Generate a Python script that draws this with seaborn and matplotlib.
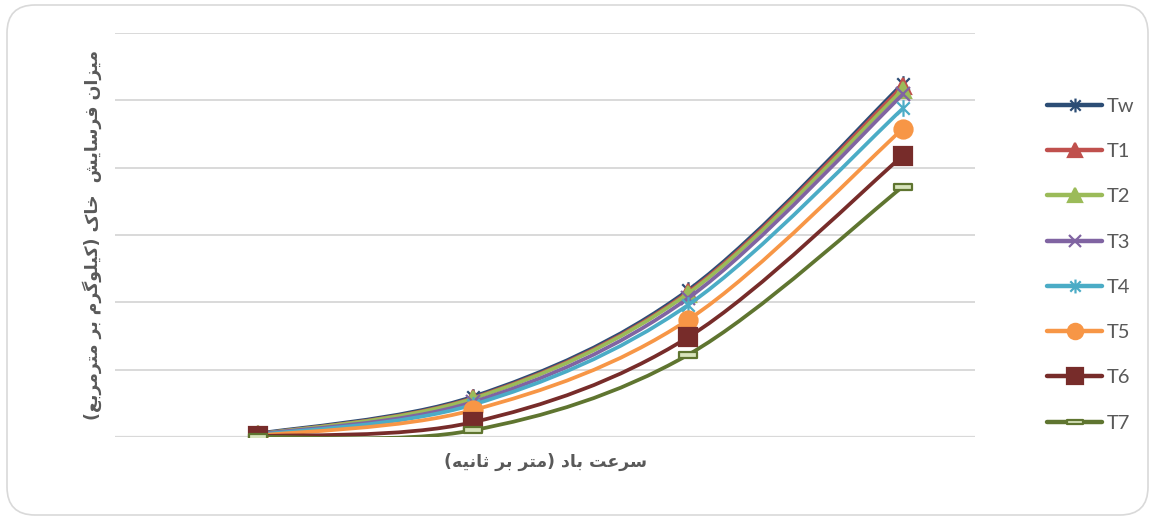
import numpy as np
import matplotlib
matplotlib.use("Agg")
import matplotlib.pyplot as plt
import seaborn as sns
import pandas as pd
from matplotlib.path import Path
from matplotlib.patches import PathPatch, FancyBboxPatch
from matplotlib.lines import Line2D

# data (in gridline units; no tick labels are shown)
points = [0, 1, 2, 3]
series = ["Tw", "T1", "T2", "T3", "T4", "T5", "T6", "T7"]
tw = [0.05, 0.60, 2.18, 5.25]
t1 = [0.04, 0.58, 2.15, 5.21]
t2 = [0.04, 0.57, 2.13, 5.16]
t3 = [0.04, 0.52, 2.06, 5.09]
t4 = [0.03, 0.48, 1.96, 4.88]
t5 = [0.02, 0.40, 1.74, 4.58]
t6 = [0.01, 0.22, 1.48, 4.18]
t7 = [0.00, 0.10, 1.22, 3.72]
colors = ["#2C4D75", "#C0504D", "#9BBB59", "#8064A2", "#4BACC6", "#F79646", "#772C2A", "#5F7530"]

ylabel = "میزان فرسایش  خاک (کیلوگرم بر مترمربع)"
xlabel = "سرعت باد (متر بر ثانیه)"

# crude arabic-script shaping: isolated, final, initial, medial
forms = {
    "ا": ("\uFE8D", "\uFE8E", None, None),
    "ب": ("\uFE8F", "\uFE90", "\uFE91", "\uFE92"),
    "ت": ("\uFE95", "\uFE96", "\uFE97", "\uFE98"),
    "ث": ("\uFE99", "\uFE9A", "\uFE9B", "\uFE9C"),
    "خ": ("\uFEA5", "\uFEA6", "\uFEA7", "\uFEA8"),
    "د": ("\uFEA9", "\uFEAA", None, None),
    "ر": ("\uFEAD", "\uFEAE", None, None),
    "ز": ("\uFEAF", "\uFEB0", None, None),
    "س": ("\uFEB1", "\uFEB2", "\uFEB3", "\uFEB4"),
    "ش": ("\uFEB5", "\uFEB6", "\uFEB7", "\uFEB8"),
    "ع": ("\uFEC9", "\uFECA", "\uFECB", "\uFECC"),
    "ف": ("\uFED1", "\uFED2", "\uFED3", "\uFED4"),
    "ل": ("\uFEDD", "\uFEDE", "\uFEDF", "\uFEE0"),
    "م": ("\uFEE1", "\uFEE2", "\uFEE3", "\uFEE4"),
    "ن": ("\uFEE5", "\uFEE6", "\uFEE7", "\uFEE8"),
    "ه": ("\uFEE9", "\uFEEA", "\uFEEB", "\uFEEC"),
    "و": ("\uFEED", "\uFEEE", None, None),
    "ک": ("\uFB8E", "\uFB8F", "\uFB90", "\uFB91"),
    "گ": ("\uFB92", "\uFB93", "\uFB94", "\uFB95"),
    "ی": ("\uFBFC", "\uFBFD", "\uFBFE", "\uFBFF"),
}


def rtl(s):
    out = []
    for i, c in enumerate(s):
        if c not in forms:
            out.append(c)
            continue
        prev = s[i - 1] if i > 0 else ""
        nxt = s[i + 1] if i + 1 < len(s) else ""
        jp = prev in forms and forms[prev][2] is not None
        jn = forms[c][2] is not None and nxt in forms
        if jp and jn:
            out.append(forms[c][3])
        elif jp:
            out.append(forms[c][1])
        elif jn:
            out.append(forms[c][2])
        else:
            out.append(forms[c][0])
    txt = "".join(out)[::-1]
    return txt.translate(str.maketrans("()", ")("))


def smooth_path(xs, ys):
    # bezier segments like the office "smoothed line"
    p = np.column_stack([xs, ys]).astype(float)
    n = len(p)
    verts = [p[0]]
    codes = [Path.MOVETO]
    for i in range(n - 1):
        a = p[i - 1] if i > 0 else p[i]
        d = p[i + 2] if i + 2 < n else p[i + 1]
        c1 = p[i] + (p[i + 1] - a) / 6
        c2 = p[i + 1] - (d - p[i]) / 6
        verts += [c1, c2, p[i + 1]]
        codes += [Path.CURVE4] * 3
    return Path(verts, codes)


star = Path([(0, -1), (0, 1), (-0.75, -0.75), (0.75, 0.75), (-0.75, 0.75), (0.75, -0.75)],
            [Path.MOVETO, Path.LINETO, Path.MOVETO, Path.LINETO, Path.MOVETO, Path.LINETO])
dash = Path([(-1, -0.28), (1, -0.28), (1, 0.28), (-1, 0.28), (-1, -0.28)],
            [Path.MOVETO, Path.LINETO, Path.LINETO, Path.LINETO, Path.CLOSEPOLY])

markers = [star, "^", "^", "x", star, "o", "s", dash]
msizes = [12, 12, 12, 10, 12, 13, 13, 13]
faces = [None, None, None, None, None, None, None, "#D8E4BC"]

df = pd.DataFrame({"point": points * 8,
                   "value": tw + t1 + t2 + t3 + t4 + t5 + t6 + t7,
                   "series": np.repeat(series, 4)})

sns.set_theme(style="white")
plt.rcParams["font.family"] = ["DejaVu Sans"]

fig = plt.figure(figsize=(11.55, 5.2), dpi=100)
ax = fig.add_axes([115 / 1155, 1 - 437 / 520, 860 / 1155, 404 / 520])

handles = []
for k, name in enumerate(series):
    sub = df[df["series"] == name]
    col = colors[k]
    ax.add_patch(PathPatch(smooth_path(sub["point"], sub["value"]), fill=False,
                           edgecolor=col, lw=2.7, capstyle="round", zorder=3 + k))
    fc = faces[k] if faces[k] else col
    sns.lineplot(x=sub["point"].values, y=sub["value"].values, ax=ax, color=col,
                 linestyle="none", marker=markers[k], markersize=msizes[k],
                 markerfacecolor=fc, markeredgecolor=col, markeredgewidth=1.6,
                 zorder=3 + k)
    handles.append(Line2D([], [], color=col, lw=3.2, solid_capstyle="round",
                          marker=markers[k], markersize=msizes[k] - 2,
                          markerfacecolor=fc, markeredgecolor=col, markeredgewidth=1.6))

ax.set_xlim((115 - 258) / 215, (975 - 258) / 215)
ax.set_ylim(0, 6)
ax.set_yticks(range(7))
ax.set_xticks([])
ax.tick_params(left=False, bottom=False, labelleft=False, labelbottom=False)
ax.grid(axis="y", color="#D9D9D9", lw=1.4)
for s in ax.spines.values():
    s.set_visible(False)
ax.axhline(0, color="#D9D9D9", lw=1.6, zorder=1)
ax.set_xlabel("")
ax.set_ylabel("")

fig.text(92 / 1155, 1 - 235 / 520, rtl(ylabel), rotation=90, ha="center", va="center",
         fontsize=12.5, fontweight="bold", color="#595959")
fig.text(545 / 1155, 1 - 462 / 520, rtl(xlabel), ha="center", va="center",
         fontsize=12.5, fontweight="bold", color="#595959")

leg = fig.legend(handles, series, loc="center left", bbox_to_anchor=(1047 / 1155, 0.491),
                 frameon=False, handlelength=2.75, handletextpad=0.2,
                 labelspacing=1.4, borderpad=0, borderaxespad=0,
                 prop={"family": ["Lato", "DejaVu Sans"], "size": 14.5})
for t in leg.get_texts():
    t.set_color("#595959")

fig.patches.append(FancyBboxPatch((7, 5), 1141, 510, boxstyle="round,pad=0,rounding_size=28",
                                  transform=None, fill=False, edgecolor="#D9D9D9", lw=1.2,
                                  figure=fig))

fig.savefig("out.png", dpi=100)
